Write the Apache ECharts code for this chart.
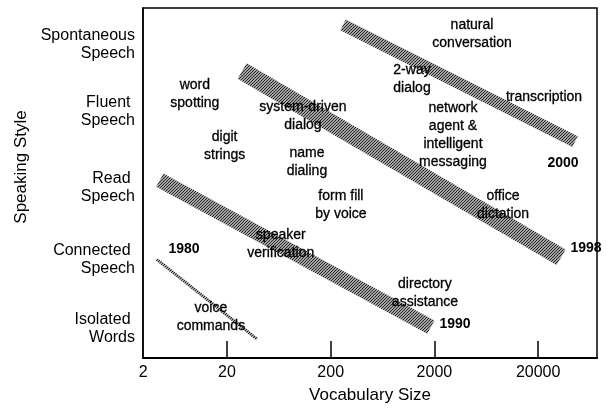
<!DOCTYPE html>
<html>
<head>
<meta charset="utf-8">
<title>Speaking Style vs Vocabulary Size</title>
<script src="https://cdn.jsdelivr.net/npm/echarts@6.0.0/dist/echarts.min.js"></script>
<style>
  html, body { margin: 0; padding: 0; background: #fff; }
  #chart { width: 607px; height: 409px; }
</style>
</head>
<body>
<div id="chart"></div>
<script>
// y axis: speaking style rows (bottom -> top) and where each label sits
const styleNames = ['Isolated \nWords', 'Connected \nSpeech', 'Read \nSpeech', 'Fluent \nSpeech', 'Spontaneous\nSpeech'];
const styleLevels = [0.42, 1.41, 2.43, 3.52, 4.48];

// x axis: vocabulary size (log), the left edge is labelled "2"
const vocabTicks = [2, 20, 200, 2000, 20000];
const vocabMin = 3.1;
const vocabMax = 73900;

// diagonal bands, one per year
const bandYears = ['1980', '1990', '1998', '2000'];
const bandStartVocab = [4.2, 4.5, 28, 263];
const bandStartStyle = [1.41, 2.54, 4.10, 4.76];
const bandEndVocab = [39, 1850, 33300, 45400];
const bandEndStyle = [0.27, 0.44, 1.44, 3.09];

// where the year numbers are written
const yearLabelVocab = [7.7, 3160, 57900, 34800];
const yearLabelStyle = [1.55, 0.49, 1.57, 2.78];

// applications written in the plot
const appNames = ['natural\nconversation', '2-way\ndialog', 'word\nspotting', 'transcription',
  'system-driven\ndialog', 'network\nagent &\nintelligent\nmessaging', 'digit\nstrings', 'name\ndialing',
  'form fill\nby voice', 'office\ndictation', 'speaker\nverification', 'directory\nassistance', 'voice\ncommands'];
const appVocab = [4610, 1216, 9.8, 22800, 108, 3020, 19, 118, 251, 9180, 66, 1620, 14];
const appStyle = [4.63, 3.98, 3.77, 3.73, 3.45, 3.19, 3.02, 2.80, 2.18, 2.19, 1.62, 0.93, 0.59];

// ---- styles ----
const bandWidths = [3, 15, 18, 12];
const font = 'Liberation Sans';
const ink = '#000';

const lg = v => Math.log10(v);

// halftone look of the bands: dark "/" stripes on grey
function makeHatch() {
  const c = document.createElement('canvas');
  c.width = 3; c.height = 3;
  const ctx = c.getContext('2d');
  ctx.fillStyle = '#a4a4a4';
  ctx.fillRect(0, 0, 3, 3);
  ctx.fillStyle = '#262626';
  for (let i = 0; i < 3; i++) {
    ctx.fillRect(i, 2 - i, 1, 1);
  }
  return c;
}
const hatch = { image: makeHatch(), repeat: 'repeat' };

const series = [];

bandYears.forEach((year, i) => {
  series.push({
    name: year,
    type: 'line',
    symbol: 'none',
    silent: true,
    z: 2,
    lineStyle: { width: bandWidths[i], color: hatch, cap: 'butt' },
    data: [
      [lg(bandStartVocab[i]), bandStartStyle[i]],
      [lg(bandEndVocab[i]), bandEndStyle[i]]
    ]
  });
});

// text labels (real text, written on top of the bands)
const textLabel = {
  show: true, position: 'inside', formatter: p => p.name, opacity: 1,
  fontFamily: font, fontSize: 14, lineHeight: 18, color: ink, align: 'center',
  textBorderColor: ink, textBorderWidth: 0.3
};

series.push({
  type: 'scatter',
  symbolSize: 0,
  z: 5,
  silent: true,
  itemStyle: { color: '#000', opacity: 1 },
  label: textLabel,
  data: appNames.map((n, i) => ({ name: n, value: [lg(appVocab[i]), appStyle[i]] }))
});

series.push({
  type: 'scatter',
  symbolSize: 0,
  z: 5,
  silent: true,
  itemStyle: { color: '#000', opacity: 1 },
  label: Object.assign({}, textLabel, { fontWeight: 'bold', textBorderWidth: 0 }),
  data: bandYears.map((y, i) => ({ name: y, value: [lg(yearLabelVocab[i]), yearLabelStyle[i]] }))
});

const xLabelPos = [lg(vocabMin) + 0.001].concat(vocabTicks.slice(1).map(lg));

const option = {
  animation: false,
  backgroundColor: '#fff',
  grid: {
    left: 143, right: 10, top: 8, bottom: 47,
    show: true, borderColor: ink, borderWidth: 1.5
  },
  xAxis: {
    type: 'value',
    min: lg(vocabMin),
    max: lg(vocabMax),
    name: 'Vocabulary Size',
    nameLocation: 'middle',
    nameGap: 29,
    nameTextStyle: { fontFamily: font, fontSize: 17, color: ink },
    axisLine: { show: true, lineStyle: { color: ink, width: 2 } },
    axisTick: {
      show: true, inside: true, length: 17,
      customValues: vocabTicks.slice(1).map(lg),
      lineStyle: { color: ink, width: 1.5 }
    },
    axisLabel: {
      customValues: xLabelPos,
      margin: 7,
      fontFamily: font, fontSize: 16, color: ink,
      formatter: v => {
        let k = 0;
        xLabelPos.forEach((p, i) => { if (Math.abs(p - v) < Math.abs(xLabelPos[k] - v)) k = i; });
        return String(vocabTicks[k]);
      }
    },
    splitLine: { show: false }
  },
  yAxis: {
    type: 'value',
    min: 0,
    max: 5,
    name: 'Speaking Style',
    nameLocation: 'middle',
    nameGap: 106,
    nameRotate: 90,
    nameTextStyle: { fontFamily: font, fontSize: 17, color: ink, padding: [0, 0, 0, 32] },
    axisLine: { show: true, lineStyle: { color: ink, width: 1.5 } },
    axisTick: { show: false },
    axisLabel: {
      customValues: styleLevels,
      margin: 8,
      fontFamily: font, fontSize: 16, lineHeight: 18, color: ink, align: 'right',
      formatter: v => {
        let k = 0;
        styleLevels.forEach((p, i) => { if (Math.abs(p - v) < Math.abs(styleLevels[k] - v)) k = i; });
        return styleNames[k];
      }
    },
    splitLine: { show: false }
  },
  series: series
};

const chart = echarts.init(document.getElementById('chart'), null, { renderer: 'canvas' });
chart.setOption(option);
</script>
</body>
</html>
